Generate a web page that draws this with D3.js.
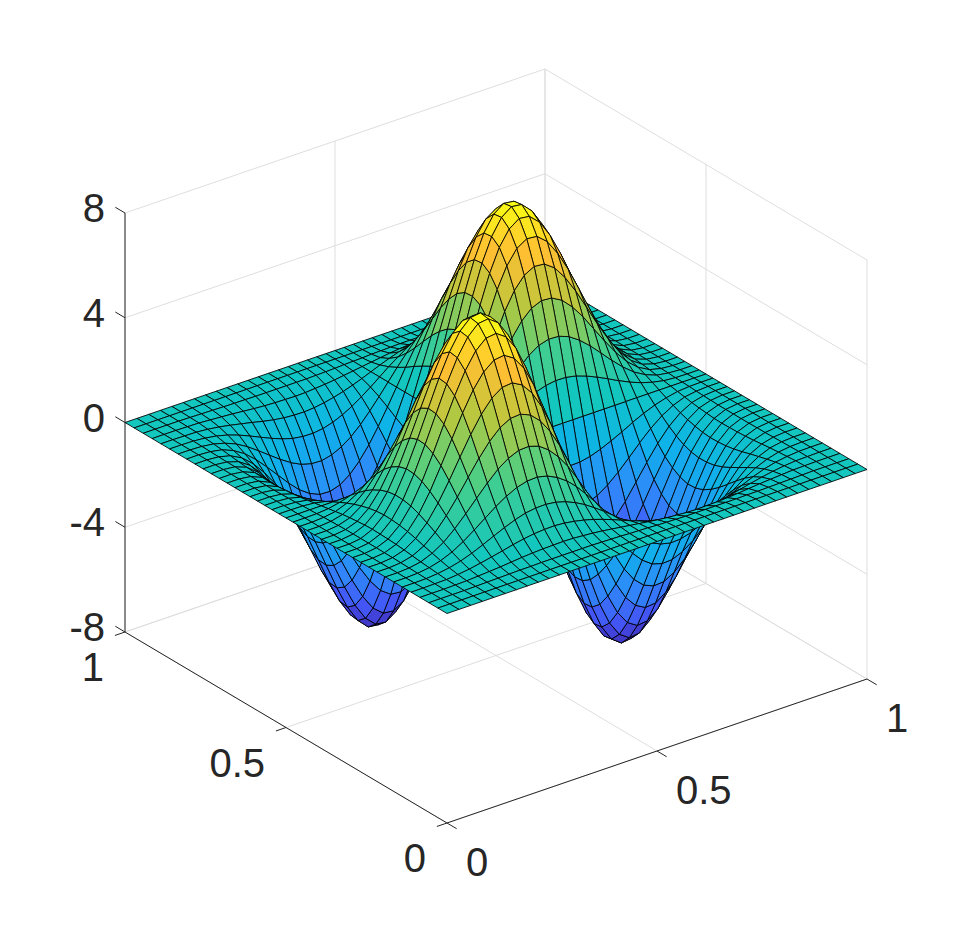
<!DOCTYPE html>
<html><head><meta charset="utf-8">
<style>html,body{margin:0;padding:0;background:#fff}svg{display:block}text{font-family:"Liberation Sans",Arial,sans-serif;font-size:40px;fill:#262626}</style>
<script src="https://cdn.jsdelivr.net/npm/d3@7/dist/d3.min.js"></script>
</head><body><svg id="c" width="958" height="926"></svg>
<script>
const xTicks=[0,0.5,1];
const yTicks=[0,0.5,1];
const zTicks=[-8,-4,0,4,8];
const xTickLabels=["0","0.5","1"];
const yTickLabels=["0","0.5","1"];
const zTickLabels=["-8","-4","0","4","8"];
const gridX=[0,.0284,.0565,.0842,.1115,.1385,.1651,.1914,.2173,.2428,.2680,.2928,.3173,.3414,.3651,.3885,.4115,.4342,.4565,.4784,.5,.5216,.5435,.5658,.5885,.6115,.6349,.6586,.6827,.7072,.7320,.7572,.7827,.8086,.8349,.8615,.8885,.9158,.9435,.9716,1];
const gridY=[0,.0284,.0565,.0842,.1115,.1385,.1651,.1914,.2173,.2428,.2680,.2928,.3173,.3414,.3651,.3885,.4115,.4342,.4565,.4784,.5,.5216,.5435,.5658,.5885,.6115,.6349,.6586,.6827,.7072,.7320,.7572,.7827,.8086,.8349,.8615,.8885,.9158,.9435,.9716,1];
const parulaStops=["#3e26a8","#4454f6","#2f89fa","#0eb2ea","#10c6c2","#48cf88","#b4c840","#ffc032","#f9fb15"];
const zValues=[
[0,0,0,0,0,0,0,0,0,0,0,0,0,0,0,0,0,0,0,0,0,0,0,0,0,0,0,0,0,0,0,0,0,0,0,0,0,0,0,0,0],
[0,0,0,0,0,0,0,0,0,0,0,0,0,0,0,0,0,0,0,0,0,0,0,0,0,0,0,0,0,0,0,0,0,0,0,0,0,0,0,0,0],
[0,0,0,0,.01,.02,.03,.04,.05,.05,.06,.06,.06,.06,.06,.06,.05,.04,.03,.01,0,-.01,-.03,-.04,-.05,-.06,-.06,-.06,-.06,-.06,-.06,-.05,-.05,-.04,-.03,-.02,-.01,0,0,0,0],
[0,0,0,.01,.02,.05,.08,.11,.15,.19,.22,.24,.25,.26,.25,.22,.19,.15,.10,.05,0,-.05,-.10,-.15,-.19,-.22,-.25,-.26,-.25,-.24,-.22,-.19,-.15,-.11,-.08,-.05,-.02,-.01,0,0,0],
[0,0,.01,.02,.06,.12,.20,.29,.38,.48,.56,.62,.65,.66,.63,.57,.49,.39,.27,.14,0,-.14,-.27,-.39,-.49,-.57,-.63,-.66,-.65,-.62,-.56,-.48,-.38,-.29,-.20,-.12,-.06,-.02,-.01,0,0],
[0,0,.01,.05,.12,.23,.38,.56,.75,.93,1.09,1.21,1.27,1.28,1.23,1.12,.96,.76,.52,.27,0,-.27,-.52,-.76,-.96,-1.12,-1.23,-1.28,-1.27,-1.21,-1.09,-.93,-.75,-.56,-.38,-.23,-.12,-.05,-.01,0,0],
[0,0,.02,.08,.20,.38,.63,.93,1.24,1.54,1.80,2.00,2.11,2.13,2.04,1.86,1.60,1.26,.86,.44,0,-.44,-.86,-1.26,-1.60,-1.86,-2.04,-2.13,-2.11,-2.00,-1.80,-1.54,-1.24,-.93,-.63,-.38,-.20,-.08,-.02,0,0],
[0,0,.03,.11,.29,.56,.93,1.36,1.81,2.25,2.64,2.92,3.09,3.11,2.99,2.72,2.33,1.84,1.26,.64,0,-.64,-1.26,-1.84,-2.33,-2.72,-2.99,-3.11,-3.09,-2.92,-2.64,-2.25,-1.81,-1.36,-.93,-.56,-.29,-.11,-.03,0,0],
[0,0,.04,.15,.38,.75,1.24,1.81,2.42,3.01,3.52,3.90,4.12,4.15,3.99,3.64,3.12,2.45,1.69,.86,0,-.86,-1.69,-2.45,-3.12,-3.64,-3.99,-4.15,-4.12,-3.90,-3.52,-3.01,-2.42,-1.81,-1.24,-.75,-.38,-.15,-.04,0,0],
[0,0,.05,.19,.48,.93,1.54,2.25,3.01,3.74,4.37,4.84,5.12,5.16,4.95,4.52,3.87,3.05,2.10,1.06,0,-1.06,-2.10,-3.05,-3.87,-4.52,-4.95,-5.16,-5.12,-4.84,-4.37,-3.74,-3.01,-2.25,-1.54,-.93,-.48,-.19,-.05,0,0],
[0,0,.05,.22,.56,1.09,1.80,2.64,3.52,4.37,5.11,5.66,5.98,6.03,5.79,5.28,4.52,3.56,2.45,1.24,0,-1.24,-2.45,-3.56,-4.52,-5.28,-5.79,-6.03,-5.98,-5.66,-5.11,-4.37,-3.52,-2.64,-1.80,-1.09,-.56,-.22,-.05,0,0],
[0,0,.06,.24,.62,1.21,2.00,2.92,3.90,4.84,5.66,6.28,6.63,6.68,6.42,5.86,5.02,3.95,2.72,1.38,0,-1.38,-2.72,-3.95,-5.02,-5.86,-6.42,-6.68,-6.63,-6.28,-5.66,-4.84,-3.90,-2.92,-2.00,-1.21,-.62,-.24,-.06,0,0],
[0,0,.06,.25,.65,1.27,2.11,3.09,4.12,5.12,5.98,6.63,7.01,7.06,6.78,6.19,5.30,4.17,2.87,1.46,0,-1.46,-2.87,-4.17,-5.30,-6.19,-6.78,-7.06,-7.01,-6.63,-5.98,-5.12,-4.12,-3.09,-2.11,-1.27,-.65,-.25,-.06,0,0],
[0,0,.06,.26,.66,1.28,2.13,3.11,4.15,5.16,6.03,6.68,7.06,7.11,6.83,6.23,5.34,4.20,2.89,1.47,0,-1.47,-2.89,-4.20,-5.34,-6.23,-6.83,-7.11,-7.06,-6.68,-6.03,-5.16,-4.15,-3.11,-2.13,-1.28,-.66,-.26,-.06,0,0],
[0,0,.06,.25,.63,1.23,2.04,2.99,3.99,4.95,5.79,6.42,6.78,6.83,6.56,5.99,5.13,4.04,2.78,1.41,0,-1.41,-2.78,-4.04,-5.13,-5.99,-6.56,-6.83,-6.78,-6.42,-5.79,-4.95,-3.99,-2.99,-2.04,-1.23,-.63,-.25,-.06,0,0],
[0,0,.06,.22,.57,1.12,1.86,2.72,3.64,4.52,5.28,5.86,6.19,6.23,5.99,5.46,4.68,3.68,2.53,1.29,0,-1.29,-2.53,-3.68,-4.68,-5.46,-5.99,-6.23,-6.19,-5.86,-5.28,-4.52,-3.64,-2.72,-1.86,-1.12,-.57,-.22,-.06,0,0],
[0,0,.05,.19,.49,.96,1.60,2.33,3.12,3.87,4.52,5.02,5.30,5.34,5.13,4.68,4.01,3.16,2.17,1.10,0,-1.10,-2.17,-3.16,-4.01,-4.68,-5.13,-5.34,-5.30,-5.02,-4.52,-3.87,-3.12,-2.33,-1.60,-.96,-.49,-.19,-.05,0,0],
[0,0,.04,.15,.39,.76,1.26,1.84,2.45,3.05,3.56,3.95,4.17,4.20,4.04,3.68,3.16,2.49,1.71,.87,0,-.87,-1.71,-2.49,-3.16,-3.68,-4.04,-4.20,-4.17,-3.95,-3.56,-3.05,-2.45,-1.84,-1.26,-.76,-.39,-.15,-.04,0,0],
[0,0,.03,.10,.27,.52,.86,1.26,1.69,2.10,2.45,2.72,2.87,2.89,2.78,2.53,2.17,1.71,1.18,.60,0,-.60,-1.18,-1.71,-2.17,-2.53,-2.78,-2.89,-2.87,-2.72,-2.45,-2.10,-1.69,-1.26,-.86,-.52,-.27,-.10,-.03,0,0],
[0,0,.01,.05,.14,.27,.44,.64,.86,1.06,1.24,1.38,1.46,1.47,1.41,1.29,1.10,.87,.60,.30,0,-.30,-.60,-.87,-1.10,-1.29,-1.41,-1.47,-1.46,-1.38,-1.24,-1.06,-.86,-.64,-.44,-.27,-.14,-.05,-.01,0,0],
[0,0,0,0,0,0,0,0,0,0,0,0,0,0,0,0,0,0,0,0,0,0,0,0,0,0,0,0,0,0,0,0,0,0,0,0,0,0,0,0,0],
[0,0,-.01,-.05,-.14,-.27,-.44,-.64,-.86,-1.06,-1.24,-1.38,-1.46,-1.47,-1.41,-1.29,-1.10,-.87,-.60,-.30,0,.30,.60,.87,1.10,1.29,1.41,1.47,1.46,1.38,1.24,1.06,.86,.64,.44,.27,.14,.05,.01,0,0],
[0,0,-.03,-.10,-.27,-.52,-.86,-1.26,-1.69,-2.10,-2.45,-2.72,-2.87,-2.89,-2.78,-2.53,-2.17,-1.71,-1.18,-.60,0,.60,1.18,1.71,2.17,2.53,2.78,2.89,2.87,2.72,2.45,2.10,1.69,1.26,.86,.52,.27,.10,.03,0,0],
[0,0,-.04,-.15,-.39,-.76,-1.26,-1.84,-2.45,-3.05,-3.56,-3.95,-4.17,-4.20,-4.04,-3.68,-3.16,-2.49,-1.71,-.87,0,.87,1.71,2.49,3.16,3.68,4.04,4.20,4.17,3.95,3.56,3.05,2.45,1.84,1.26,.76,.39,.15,.04,0,0],
[0,0,-.05,-.19,-.49,-.96,-1.60,-2.33,-3.12,-3.87,-4.52,-5.02,-5.30,-5.34,-5.13,-4.68,-4.01,-3.16,-2.17,-1.10,0,1.10,2.17,3.16,4.01,4.68,5.13,5.34,5.30,5.02,4.52,3.87,3.12,2.33,1.60,.96,.49,.19,.05,0,0],
[0,0,-.06,-.22,-.57,-1.12,-1.86,-2.72,-3.64,-4.52,-5.28,-5.86,-6.19,-6.23,-5.99,-5.46,-4.68,-3.68,-2.53,-1.29,0,1.29,2.53,3.68,4.68,5.46,5.99,6.23,6.19,5.86,5.28,4.52,3.64,2.72,1.86,1.12,.57,.22,.06,0,0],
[0,0,-.06,-.25,-.63,-1.23,-2.04,-2.99,-3.99,-4.95,-5.79,-6.42,-6.78,-6.83,-6.56,-5.99,-5.13,-4.04,-2.78,-1.41,0,1.41,2.78,4.04,5.13,5.99,6.56,6.83,6.78,6.42,5.79,4.95,3.99,2.99,2.04,1.23,.63,.25,.06,0,0],
[0,0,-.06,-.26,-.66,-1.28,-2.13,-3.11,-4.15,-5.16,-6.03,-6.68,-7.06,-7.11,-6.83,-6.23,-5.34,-4.20,-2.89,-1.47,0,1.47,2.89,4.20,5.34,6.23,6.83,7.11,7.06,6.68,6.03,5.16,4.15,3.11,2.13,1.28,.66,.26,.06,0,0],
[0,0,-.06,-.25,-.65,-1.27,-2.11,-3.09,-4.12,-5.12,-5.98,-6.63,-7.01,-7.06,-6.78,-6.19,-5.30,-4.17,-2.87,-1.46,0,1.46,2.87,4.17,5.30,6.19,6.78,7.06,7.01,6.63,5.98,5.12,4.12,3.09,2.11,1.27,.65,.25,.06,0,0],
[0,0,-.06,-.24,-.62,-1.21,-2.00,-2.92,-3.90,-4.84,-5.66,-6.28,-6.63,-6.68,-6.42,-5.86,-5.02,-3.95,-2.72,-1.38,0,1.38,2.72,3.95,5.02,5.86,6.42,6.68,6.63,6.28,5.66,4.84,3.90,2.92,2.00,1.21,.62,.24,.06,0,0],
[0,0,-.05,-.22,-.56,-1.09,-1.80,-2.64,-3.52,-4.37,-5.11,-5.66,-5.98,-6.03,-5.79,-5.28,-4.52,-3.56,-2.45,-1.24,0,1.24,2.45,3.56,4.52,5.28,5.79,6.03,5.98,5.66,5.11,4.37,3.52,2.64,1.80,1.09,.56,.22,.05,0,0],
[0,0,-.05,-.19,-.48,-.93,-1.54,-2.25,-3.01,-3.74,-4.37,-4.84,-5.12,-5.16,-4.95,-4.52,-3.87,-3.05,-2.10,-1.06,0,1.06,2.10,3.05,3.87,4.52,4.95,5.16,5.12,4.84,4.37,3.74,3.01,2.25,1.54,.93,.48,.19,.05,0,0],
[0,0,-.04,-.15,-.38,-.75,-1.24,-1.81,-2.42,-3.01,-3.52,-3.90,-4.12,-4.15,-3.99,-3.64,-3.12,-2.45,-1.69,-.86,0,.86,1.69,2.45,3.12,3.64,3.99,4.15,4.12,3.90,3.52,3.01,2.42,1.81,1.24,.75,.38,.15,.04,0,0],
[0,0,-.03,-.11,-.29,-.56,-.93,-1.36,-1.81,-2.25,-2.64,-2.92,-3.09,-3.11,-2.99,-2.72,-2.33,-1.84,-1.26,-.64,0,.64,1.26,1.84,2.33,2.72,2.99,3.11,3.09,2.92,2.64,2.25,1.81,1.36,.93,.56,.29,.11,.03,0,0],
[0,0,-.02,-.08,-.20,-.38,-.63,-.93,-1.24,-1.54,-1.80,-2.00,-2.11,-2.13,-2.04,-1.86,-1.60,-1.26,-.86,-.44,0,.44,.86,1.26,1.60,1.86,2.04,2.13,2.11,2.00,1.80,1.54,1.24,.93,.63,.38,.20,.08,.02,0,0],
[0,0,-.01,-.05,-.12,-.23,-.38,-.56,-.75,-.93,-1.09,-1.21,-1.27,-1.28,-1.23,-1.12,-.96,-.76,-.52,-.27,0,.27,.52,.76,.96,1.12,1.23,1.28,1.27,1.21,1.09,.93,.75,.56,.38,.23,.12,.05,.01,0,0],
[0,0,-.01,-.02,-.06,-.12,-.20,-.29,-.38,-.48,-.56,-.62,-.65,-.66,-.63,-.57,-.49,-.39,-.27,-.14,0,.14,.27,.39,.49,.57,.63,.66,.65,.62,.56,.48,.38,.29,.20,.12,.06,.02,.01,0,0],
[0,0,0,-.01,-.02,-.05,-.08,-.11,-.15,-.19,-.22,-.24,-.25,-.26,-.25,-.22,-.19,-.15,-.10,-.05,0,.05,.10,.15,.19,.22,.25,.26,.25,.24,.22,.19,.15,.11,.08,.05,.02,.01,0,0,0],
[0,0,0,0,-.01,-.02,-.03,-.04,-.05,-.05,-.06,-.06,-.06,-.06,-.06,-.06,-.05,-.04,-.03,-.01,0,.01,.03,.04,.05,.06,.06,.06,.06,.06,.06,.05,.05,.04,.03,.02,.01,0,0,0,0],
[0,0,0,0,0,0,0,0,0,0,0,0,0,0,0,0,0,0,0,0,0,0,0,0,0,0,0,0,0,0,0,0,0,0,0,0,0,0,0,0,0],
[0,0,0,0,0,0,0,0,0,0,0,0,0,0,0,0,0,0,0,0,0,0,0,0,0,0,0,0,0,0,0,0,0,0,0,0,0,0,0,0,0]
];

// Orthographic projection: screen offsets contributed by each data axis
const sxFromX=d3.scaleLinear().domain([0,1]).range([0,420]);
const syFromX=d3.scaleLinear().domain([0,1]).range([0,-144]);
const sxFromY=d3.scaleLinear().domain([0,1]).range([0,-322]);
const syFromY=d3.scaleLinear().domain([0,1]).range([0,-191]);
const syFromZ=d3.scaleLinear().domain([-8,8]).range([0,-419]);
const front={x:447,y:823};
const project=(x,y,z)=>[front.x+sxFromX(x)+sxFromY(y),front.y+syFromX(x)+syFromY(y)+syFromZ(z)];
const nearness=(x,y,z)=>-286*x-372*y+13.5*z;

const svg=d3.select("#c");
const line=d3.line();
const seg=(a,b)=>line([project(...a),project(...b)]);

// walls and floor grid
const gridColor="#dedede";
const wallSegs=[];
zTicks.forEach(z=>{wallSegs.push([[0,1,z],[1,1,z]]);wallSegs.push([[1,1,z],[1,0,z]]);});
xTicks.forEach(x=>{wallSegs.push([[x,1,-8],[x,1,8]]);wallSegs.push([[x,0,-8],[x,1,-8]]);});
yTicks.forEach(y=>{wallSegs.push([[1,y,-8],[1,y,8]]);wallSegs.push([[0,y,-8],[1,y,-8]]);});
svg.append("g").attr("fill","none").attr("stroke",gridColor).attr("stroke-width",1)
  .selectAll("path").data(wallSegs).join("path").attr("d",d=>seg(d[0],d[1]));

// axes
const axisColor="#262626";
const axes=svg.append("g").attr("fill","none").attr("stroke",axisColor).attr("stroke-width",1);
axes.append("path").attr("d",seg([0,0,-8],[1,0,-8]));
axes.append("path").attr("d",seg([0,0,-8],[0,1,-8]));
axes.append("path").attr("d",seg([0,1,-8],[0,1,8]));
const tickLen=0.024;
xTicks.forEach(x=>axes.append("path").attr("d",seg([x,0,-8],[x,-tickLen*1.25,-8])));
yTicks.forEach(y=>axes.append("path").attr("d",seg([0,y,-8],[-tickLen,y,-8])));
zTicks.forEach(z=>axes.append("path").attr("d",seg([0,1,z],[0,1+tickLen*1.25,z])));

// surface, painted far to near; each face takes the colour of its first corner
const flat=zValues.flat();
const colorScale=d3.scaleQuantize()
  .domain(d3.extent(flat))
  .range(d3.quantize(d3.piecewise(d3.interpolateRgb,parulaStops),64));
const faces=[];
for(let j=0;j<gridY.length-1;j++)for(let i=0;i<gridX.length-1;i++){
  const c=[[i,j],[i+1,j],[i+1,j+1],[i,j+1]].map(([a,b])=>[gridX[a],gridY[b],zValues[b][a]]);
  faces.push({c,v:zValues[j][i],depth:d3.mean(c,p=>nearness(...p))});
}
faces.sort((a,b)=>a.depth-b.depth);
svg.append("g").attr("stroke","#000").attr("stroke-width",0.85).attr("stroke-linejoin","round")
  .selectAll("path").data(faces).join("path")
  .attr("fill",d=>colorScale(d.v))
  .attr("d",d=>line(d.c.map(p=>project(...p)))+"Z");

// tick labels
const labels=svg.append("g");
xTicks.forEach((t,i)=>{const p=project(t,0,-8);
  labels.append("text").attr("x",p[0]+19).attr("y",p[1]+53).text(xTickLabels[i]);});
yTicks.forEach((t,i)=>{const p=project(0,t,-8);
  labels.append("text").attr("x",p[0]-21).attr("y",p[1]+49).attr("text-anchor","end").text(yTickLabels[i]);});
zTicks.forEach((t,i)=>{const p=project(0,1,t);
  labels.append("text").attr("x",p[0]-20).attr("y",p[1]+9).attr("text-anchor","end").text(zTickLabels[i]);});
</script></body></html>
